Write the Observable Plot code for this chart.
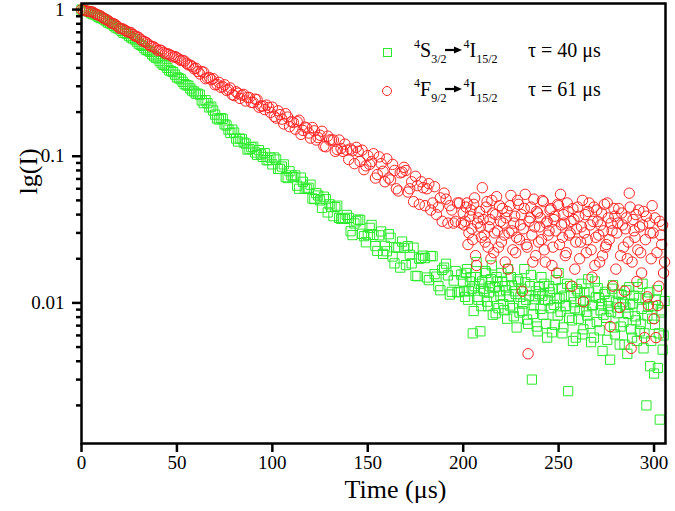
<!DOCTYPE html>
<html><head><meta charset="utf-8">
<script src="https://cdn.jsdelivr.net/npm/d3@7"></script>
<script src="https://cdn.jsdelivr.net/npm/@observablehq/plot@0.6"></script>
<style>
body{margin:0;background:#fff;}
#wrap{position:relative;width:675px;height:511px;font-family:"Liberation Serif",serif;}
#wrap svg text{font-family:"Liberation Serif",serif !important;}
.leg{position:absolute;font-family:"Liberation Serif",serif !important;font-size:20px;line-height:24px;color:#000;white-space:nowrap;}
.leg .sp{font-size:12px;position:relative;top:-9px;}
.leg .sb{font-size:12px;position:relative;top:6px;}
.sym{position:absolute;box-sizing:border-box;}
</style></head><body><div id="wrap"></div>
<script>
// Sampling grids (µs): even steps, odd steps, tail integer and half steps
const tEven = d3.range(0, 200, 2);
const tOdd = d3.range(1, 200, 2);
const tTail = d3.range(200, 306, 1);
const tTailHalf = d3.range(200.5, 306, 1);

// 4F9/2 -> 4I15/2 (red circles)
const redEven = [
  1.0, 0.985, 0.97, 0.96, 0.925, 0.905, 0.865, 0.84, 0.805, 0.785,
  0.745, 0.735, 0.705, 0.695, 0.66, 0.645, 0.61, 0.595, 0.565, 0.555,
  0.525, 0.525, 0.5, 0.495, 0.475, 0.47, 0.45, 0.445, 0.42, 0.41,
  0.398, 0.364, 0.374, 0.342, 0.333, 0.307, 0.319, 0.298, 0.281, 0.292,
  0.259, 0.269, 0.261, 0.238, 0.251, 0.232, 0.243, 0.220, 0.208, 0.215,
  0.216, 0.182, 0.192, 0.166, 0.185, 0.172, 0.153, 0.176, 0.150, 0.156,
  0.133, 0.149, 0.134, 0.148, 0.116, 0.129, 0.129, 0.111, 0.113, 0.121,
  0.095, 0.109, 0.115, 0.092, 0.081, 0.101, 0.092, 0.071, 0.099, 0.079,
  0.096, 0.069, 0.080, 0.058, 0.078, 0.080, 0.060, 0.049, 0.063, 0.067,
  0.046, 0.065, 0.048, 0.040, 0.052, 0.056, 0.035, 0.043, 0.036, 0.048
];
const redOdd = [
  0.99, 0.975, 0.965, 0.94, 0.915, 0.885, 0.855, 0.82, 0.8, 0.765,
  0.74, 0.72, 0.7, 0.675, 0.655, 0.625, 0.605, 0.58, 0.56, 0.54,
  0.53, 0.51, 0.5, 0.485, 0.478, 0.46, 0.45, 0.43, 0.418, 0.395,
  0.378, 0.378, 0.338, 0.344, 0.338, 0.309, 0.295, 0.307, 0.285, 0.263,
  0.275, 0.248, 0.264, 0.252, 0.233, 0.245, 0.216, 0.220, 0.223, 0.199,
  0.187, 0.204, 0.179, 0.195, 0.159, 0.170, 0.172, 0.141, 0.158, 0.144,
  0.157, 0.129, 0.139, 0.117, 0.137, 0.129, 0.108, 0.129, 0.108, 0.110,
  0.112, 0.089, 0.108, 0.110, 0.086, 0.088, 0.104, 0.075, 0.089, 0.067,
  0.071, 0.088, 0.060, 0.077, 0.084, 0.057, 0.067, 0.073, 0.047, 0.061,
  0.060, 0.043, 0.062, 0.045, 0.036, 0.051, 0.046, 0.035, 0.048, 0.035
];
const redTail = [
  0.041, 0.036, 0.048, 0.030, 0.043, 0.027, 0.052, 0.018, 0.038, 0.033,
  0.061, 0.029, 0.045, 0.024, 0.037, 0.050, 0.022, 0.040, 0.031, 0.046,
  0.026, 0.035, 0.019, 0.042, 0.030, 0.054, 0.023, 0.039, 0.028, 0.047,
  0.034, 0.012, 0.044, 0.025, 0.0045, 0.038, 0.029, 0.051, 0.021, 0.041,
  0.033, 0.027, 0.049, 0.019, 0.036, 0.031, 0.044, 0.024, 0.039, 0.016,
  0.046, 0.055, 0.028, 0.035, 0.022, 0.042, 0.030, 0.013, 0.037, 0.026,
  0.045, 0.020, 0.033, 0.0102, 0.040, 0.027, 0.048, 0.023, 0.036, 0.018,
  0.043, 0.029, 0.034, 0.021, 0.047, 0.025, 0.038, 0.0069, 0.031, 0.044,
  0.017, 0.035, 0.0093, 0.041, 0.024, 0.032, 0.020, 0.056, 0.0049, 0.037,
  0.028, 0.014, 0.043, 0.022, 0.034, 0.0058, 0.039, 0.0097, 0.030, 0.046,
  0.0078, 0.0058, 0.0096, 0.036, 0.025, 0.016
];
const redTailHalf = [
  0.034, 0.045, 0.025, 0.039, 0.032, 0.047, 0.021, 0.035, 0.042, 0.028,
  0.037, 0.026, 0.049, 0.033, 0.02, 0.041, 0.03, 0.053, 0.024, 0.036,
  0.044, 0.029, 0.038, 0.017, 0.046, 0.031, 0.035, 0.022, 0.05, 0.027,
  0.04, 0.032, 0.055, 0.024, 0.036, 0.045, 0.019, 0.033, 0.042, 0.026,
  0.038, 0.05, 0.023, 0.035, 0.029, 0.043, 0.018, 0.037, 0.031, 0.047,
  0.025, 0.034, 0.04, 0.021, 0.048, 0.029, 0.036, 0.044, 0.017, 0.032,
  0.039, 0.026, 0.05, 0.03, 0.022, 0.042, 0.034, 0.015, 0.045, 0.028,
  0.036, 0.019, 0.041, 0.031, 0.024, 0.048, 0.027, 0.035, 0.013, 0.039,
  0.03, 0.044, 0.021, 0.034, 0.012, 0.038, 0.026, 0.045, 0.019, 0.031,
  0.04, 0.023, 0.033, 0.016, 0.042, 0.027, 0.011, 0.035, 0.02, 0.03,
  0.038, 0.022, 0.013, 0.029, 0.034, 0.019
];

// 4S3/2 -> 4I15/2 (green squares)
const greenEven = [
  1.0, 0.98, 0.965, 0.93, 0.91, 0.875, 0.855, 0.815, 0.795, 0.755,
  0.735, 0.695, 0.68, 0.645, 0.625, 0.585, 0.565, 0.53, 0.515, 0.48,
  0.465, 0.43, 0.415, 0.385, 0.375, 0.345, 0.335, 0.31, 0.303, 0.28,
  0.267, 0.263, 0.230, 0.230, 0.218, 0.192, 0.178, 0.180, 0.162, 0.144,
  0.145, 0.126, 0.131, 0.122, 0.112, 0.116, 0.102, 0.103, 0.105, 0.094,
  0.088, 0.095, 0.082, 0.088, 0.071, 0.074, 0.074, 0.060, 0.067, 0.060,
  0.064, 0.051, 0.054, 0.0445, 0.051, 0.047, 0.039, 0.046, 0.0374, 0.0374,
  0.038, 0.029, 0.036, 0.0368, 0.0285, 0.029, 0.034, 0.0244, 0.0289, 0.0216,
  0.0225, 0.0278, 0.0186, 0.0238, 0.0262, 0.0181, 0.0213, 0.0238, 0.0152, 0.0203,
  0.0202, 0.0143, 0.0208, 0.0151, 0.0122, 0.0174, 0.0154, 0.0119, 0.0165, 0.0119
];
const greenOdd = [
  0.99, 0.975, 0.945, 0.925, 0.89, 0.87, 0.835, 0.805, 0.775, 0.745,
  0.715, 0.69, 0.66, 0.635, 0.605, 0.575, 0.545, 0.525, 0.495, 0.47,
  0.445, 0.42, 0.4, 0.38, 0.36, 0.34, 0.322, 0.305, 0.29, 0.276,
  0.267, 0.240, 0.241, 0.215, 0.205, 0.181, 0.182, 0.165, 0.152, 0.152,
  0.132, 0.132, 0.124, 0.111, 0.115, 0.106, 0.110, 0.099, 0.094, 0.098,
  0.098, 0.082, 0.085, 0.072, 0.079, 0.072, 0.063, 0.0715, 0.060, 0.061,
  0.0515, 0.056, 0.050, 0.053, 0.0414, 0.0453, 0.045, 0.038, 0.0376, 0.0398,
  0.0308, 0.0348, 0.037, 0.0296, 0.0259, 0.0325, 0.0291, 0.0226, 0.0307, 0.0245,
  0.0294, 0.0207, 0.0239, 0.0174, 0.0237, 0.0244, 0.0186, 0.0153, 0.020, 0.021,
  0.0149, 0.0209, 0.0157, 0.013, 0.0168, 0.0185, 0.0114, 0.0142, 0.0118, 0.0156
];
const greenTail = [
  0.014, 0.011, 0.017, 0.012, 0.015, 0.0062, 0.013, 0.019, 0.0105, 0.0064,
  0.014, 0.012, 0.016, 0.0095, 0.013, 0.018, 0.011, 0.0085, 0.014, 0.012,
  0.016, 0.0098, 0.013, 0.0078, 0.011, 0.015, 0.0092, 0.012, 0.0068, 0.014,
  0.011, 0.0088, 0.017, 0.0105, 0.0072, 0.013, 0.0030, 0.0096, 0.012, 0.0064,
  0.0115, 0.015, 0.0083, 0.0105, 0.0058, 0.013, 0.0092, 0.0125, 0.0071, 0.0108,
  0.016, 0.0087, 0.0062, 0.0112, 0.0095, 0.0025, 0.013, 0.0076, 0.0101, 0.0058,
  0.012, 0.0089, 0.0135, 0.0066, 0.0104, 0.0082, 0.0118, 0.0054, 0.0097, 0.014,
  0.0074, 0.0108, 0.0089, 0.0047, 0.0115, 0.0079, 0.0095, 0.0041, 0.0125, 0.0068,
  0.0102, 0.0085, 0.0052, 0.0113, 0.0074, 0.0093, 0.0045, 0.0128, 0.0066, 0.0099,
  0.0081, 0.0055, 0.0108, 0.0072, 0.0135, 0.0062, 0.0020, 0.0094, 0.0037, 0.0078,
  0.0033, 0.0105, 0.0036, 0.0016, 0.0086, 0.0060
];
const greenTailHalf = [
  0.012, 0.016, 0.0105, 0.014, 0.0125, 0.0088, 0.015, 0.011, 0.0135, 0.0095,
  0.0125, 0.0165, 0.0102, 0.0118, 0.0145, 0.0083, 0.0128, 0.015, 0.0092, 0.0112,
  0.014, 0.0089, 0.0122, 0.017, 0.0096, 0.0132, 0.0081, 0.0115, 0.0145, 0.0086,
  0.0125, 0.0099, 0.0138, 0.0077, 0.0112, 0.0155, 0.0084, 0.0106, 0.0069, 0.0128,
  0.0091, 0.0112, 0.0135, 0.0072, 0.0104, 0.0118, 0.0063, 0.0097, 0.0143, 0.0082,
  0.0107, 0.0126, 0.0068, 0.0095, 0.0135, 0.0079, 0.0111, 0.0055, 0.0092, 0.0124,
  0.0078, 0.0102, 0.0061, 0.0118, 0.0087, 0.0145, 0.0072, 0.0096, 0.0058, 0.0109,
  0.0126, 0.0065, 0.0098, 0.0083, 0.0119, 0.0056, 0.0104, 0.0087, 0.0132, 0.0061,
  0.0093, 0.0115, 0.0069, 0.0101, 0.0052, 0.0122, 0.0084, 0.0098, 0.0058, 0.0112,
  0.0076, 0.0128, 0.0064, 0.0091, 0.0049, 0.0107, 0.0082, 0.0118, 0.0055, 0.0095,
  0.0071, 0.0122, 0.0062, 0.0089, 0.0048, 0.0103
];

const xTicks = [0, 50, 100, 150, 200, 250, 300];
const yMajor = [0.01, 0.1, 1];
const yMinor = [0.002,0.003,0.004,0.005,0.006,0.007,0.008,0.009,
                0.02,0.03,0.04,0.05,0.06,0.07,0.08,0.09,
                0.2,0.3,0.4,0.5,0.6,0.7,0.8,0.9];
const xLabel = "Time (μs)";
const yLabel = "lg(I)";

const GREEN = "#2bea2b";
const RED = "#ff2424";
const FONT = "'Liberation Serif', serif";

const pair = (ts, vs) => ts.map((t, i) => ({t, v: vs[i]}));
const red = [...pair(tEven, redEven), ...pair(tOdd, redOdd), ...pair(tTail, redTail), ...pair(tTailHalf, redTailHalf)];
const green = [...pair(tEven, greenEven), ...pair(tOdd, greenOdd), ...pair(tTail, greenTail), ...pair(tTailHalf, greenTailHalf)];

const chart = Plot.plot({
  width: 675, height: 511,
  marginLeft: 81, marginRight: 10, marginTop: 3, marginBottom: 68,
  x: {domain: [0, 306]},
  y: {type: "log", domain: [0.0011, 1.1]},
  style: {fontFamily: FONT, fontSize: "19px", color: "#000", background: "#fff"},
  marks: [
    Plot.dot(green, {x: "t", y: "v", symbol: "square", r: 5.2, stroke: GREEN, strokeWidth: 1, fill: "none"}),
    Plot.dot(red, {x: "t", y: "v", symbol: "circle", r: 5.2, stroke: RED, strokeWidth: 1, fill: "none"}),
    Plot.frame({stroke: "#000", strokeWidth: 2.5}),
    Plot.axisX({ticks: xTicks, tickSize: 9, strokeWidth: 2.5, tickPadding: 3, label: null, stroke: "#000", fontFamily: FONT, fontSize: 19}),
    Plot.axisY({ticks: yMajor, tickSize: 9, strokeWidth: 2.5, tickPadding: 8, label: null, stroke: "#000", fontFamily: FONT, fontSize: 19, tickFormat: d => String(d)}),
    Plot.axisY({ticks: yMinor, tickSize: 5, strokeWidth: 2.5, label: null, stroke: "#000", tickFormat: () => ""}),
    Plot.text([xLabel], {frameAnchor: "bottom", dy: 54, dx: 22, fontSize: 26, fontFamily: FONT}),
    Plot.text([yLabel], {frameAnchor: "left", dx: -53, dy: -29, rotate: -90, fontSize: 26, fontFamily: FONT})
  ]
});

const wrap = document.getElementById("wrap");
wrap.appendChild(chart);

const arrow = '<svg width="17" height="8" style="position:relative;top:-3px;margin:0 1px 0 -1px" viewBox="0 0 17 8"><line x1="0" y1="4" x2="10" y2="4" stroke="#000" stroke-width="2.2"/><polygon points="9,0.5 17,4 9,7.5" fill="#000"/></svg>';
const legendRows = [
  {sym: "square", color: GREEN, top: 38, from: "S", fromSub: "3/2", tau: "τ = 40 μs"},
  {sym: "circle", color: RED, top: 77, from: "F", fromSub: "9/2", tau: "τ = 61 μs"}
];
legendRows.forEach(r => {
  const s = document.createElement("div");
  s.className = "sym";
  const sz = r.sym === "square" ? 9 : 10;
  s.style.cssText += `left:${387 - sz/2}px;top:${r.top + 14 - sz/2}px;width:${sz}px;height:${sz}px;border:1px solid ${r.color};` + (r.sym === "circle" ? "border-radius:50%;" : "");
  wrap.appendChild(s);
  const d = document.createElement("div");
  d.className = "leg";
  d.style.left = "414px"; d.style.top = r.top + "px";
  d.innerHTML = `<span class="sp">4</span>${r.from}<span class="sb">${r.fromSub}</span>${arrow}<span class="sp">4</span>I<span class="sb">15/2</span>`;
  wrap.appendChild(d);
  const e = document.createElement("div");
  e.className = "leg";
  e.style.left = "528px"; e.style.top = r.top + "px";
  e.textContent = r.tau;
  wrap.appendChild(e);
});
</script>
</body></html>
